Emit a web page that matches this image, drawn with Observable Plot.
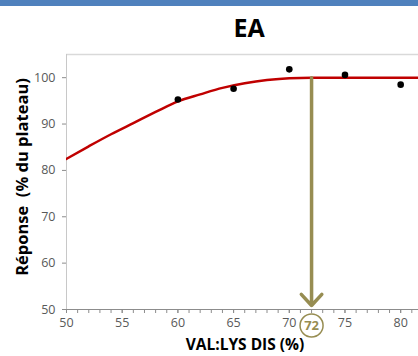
<!DOCTYPE html>
<html><head><meta charset="utf-8">
<script src="https://cdn.jsdelivr.net/npm/d3@7"></script>
<script src="https://cdn.jsdelivr.net/npm/@observablehq/plot@0.6"></script>
<style>
body{margin:0;background:#fff;font-family:"Open Sans",sans-serif;}
#wrap{position:relative;width:418px;height:356px;overflow:hidden;}
#bar{position:absolute;left:0;top:0;width:418px;height:6px;background:#4f81bd;}
#title{position:absolute;left:0;top:12px;width:498px;text-align:center;font-weight:bold;font-size:25px;line-height:30px;color:#000;}
#xlab{position:absolute;left:0;top:333px;width:490px;text-align:center;font-weight:bold;font-size:15.5px;color:#000;}
#ylab{position:absolute;left:21px;top:177px;transform:translate(-50%,-50%) rotate(-90deg);white-space:pre;font-weight:bold;font-size:16.5px;color:#000;}
svg{position:absolute;left:0;top:0;}
</style></head>
<body><div id="wrap"><div id="bar"></div><div id="title">EA</div><div id="xlab">VAL:LYS DIS (%)</div><div id="ylab">Réponse  (% du plateau)</div></div>
<script>
// observed points
const obsX = [60, 65, 70, 75, 80];
const obsY = [95.3, 97.6, 101.8, 100.6, 98.5];
// fitted curve
const curveX = [50, 52, 54, 56, 58, 60, 62, 64, 66, 68, 70, 72, 85];
const curveY = [82.5, 85.2, 87.8, 90.2, 92.6, 94.9, 96.4, 97.8, 98.8, 99.5, 99.9, 100, 100];
// optimum
const optX = 72;
const optY = 100;
const xTicks = [50, 55, 60, 65, 70, 75, 80];
const xMinor = [50,51,52,53,54,55,56,57,58,59,60,61,62,63,64,65,66,67,68,69,70,71,72,73,74,75,76,77,78,79,80,81];
const yTicks = [50, 60, 70, 80, 90, 100];

const pts = obsX.map((x, i) => ({x, y: obsY[i]}));
const curve = curveX.map((x, i) => ({x, y: curveY[i]}));
const olive = "#978d52";
const grey = "#8c8c8c";

const chart = Plot.plot({
  width: 418, height: 356,
  marginTop: 54, marginLeft: 66, marginRight: 0, marginBottom: 47,
  style: {fontFamily: "Open Sans, sans-serif", fontSize: "12px", color: "#595959", background: "transparent"},
  x: {domain: [50, 81.6]},
  y: {domain: [50, 105]},
  marks: [
    Plot.ruleY([105], {stroke: "#d9d9d9", strokeWidth: 1.5}),
    Plot.ruleY([50], {stroke: grey}),
    Plot.ruleX([50], {stroke: "#c8c8c8"}),
    Plot.axisX(xMinor, {tickSize: 4, stroke: grey, tickFormat: null, text: null, label: null}),
    Plot.axisX(xTicks, {tickSize: 4, tickPadding: 5, stroke: grey, label: null, fill: "#595959", fontSize: 12.5}),
    Plot.axisY(yTicks, {tickSize: 4, tickPadding: 7, stroke: grey, label: null, fill: "#595959", fontSize: 12.5}),
    Plot.line(curve, {x: "x", y: "y", curve: "monotone-x", stroke: "#c00000", strokeWidth: 2.5, clip: true}),
    Plot.dot(pts, {x: "x", y: "y", r: 3.3, fill: "#000", stroke: "none"}),
    Plot.arrow([{x: optX, y1: optY, y2: 50}], {x1: "x", x2: "x", y1: "y1", y2: "y2", stroke: olive, strokeWidth: 3.5, headLength: 6.5, headAngle: 85, insetEnd: 4}),
    Plot.dot([{x: optX, y: 50}], {x: "x", y: "y", r: 11.5, stroke: olive, strokeWidth: 1.5, fill: "white", dy: 16}),
    Plot.text([{x: optX, y: 50}], {x: "x", y: "y", text: d => String(d.x), fill: olive, fontWeight: "bold", fontSize: 13, dy: 16})
  ]
});
document.getElementById("wrap").appendChild(chart);
</script></body></html>
